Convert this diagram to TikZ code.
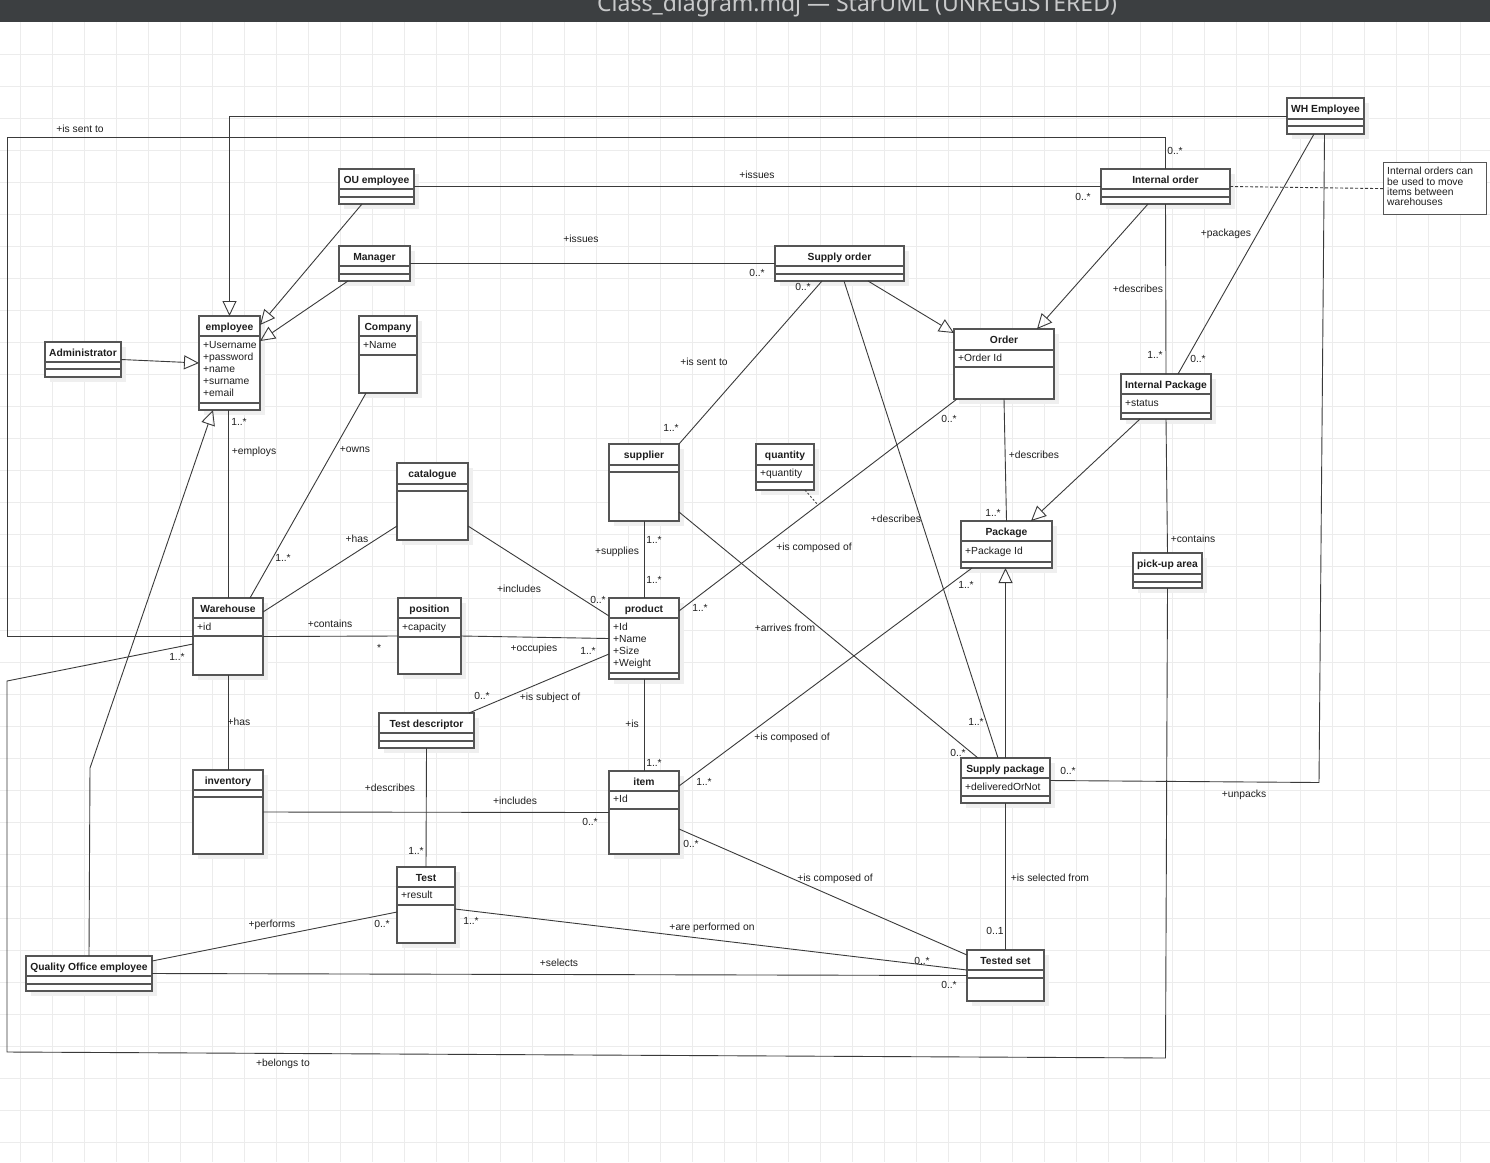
\documentclass[tikz,border=0pt]{standalone}
\usepackage{fontspec}
\setmainfont{Liberation Sans}
\newfontfamily\titlefont{Noto Sans}
\usetikzlibrary{arrows.meta, positioning}

\definecolor{boxgray}{HTML}{555555}
\definecolor{linegray}{HTML}{3A3A3A}
\definecolor{gridgray}{HTML}{ECECEC}
\definecolor{shadowgray}{HTML}{EFEFEF}
\definecolor{barcolor}{HTML}{3C3F41}
\definecolor{bartext}{HTML}{C9CACB}
\definecolor{textblack}{HTML}{1E1E1E}

\newcommand{\umlsize}{\fontsize{10.3pt}{12pt}\selectfont}

% class box: name, left, top, right, bottom, title, compartment lines
\newcommand{\umlclass}[7]{%
  \fill[shadowgray] ({#2+5},{#3+5}) rectangle ({#4+5},{#5+5});
  \node[classbox, minimum width={#4-#2}, minimum height={#5-#3}] (#1) at (#2,#3) {};
  \node[classname] (#1-t) at ({(#2+#4)/2},{#3+10}) {#6};
  \foreach \yy in {#7} \draw[boxgray, line width=1.2pt] (#2,\yy) -- (#4,\yy);
}
% attributes: name, x, first y, list
\newcommand{\classattrs}[4]{%
  \foreach \at [count=\ai] in {#4}
    \node[attr] (#1-a\ai) at (#2,{#3+12*(\ai-1)}) {\at};
}

\begin{document}
\begin{tikzpicture}[x=1pt, y=-1pt]
    \tikzset{
        classbox/.style = {rectangle, draw=boxgray, line width=1.2pt, fill=white, inner sep=0pt, outer sep=0pt, anchor=north west},
        classname/.style = {font=\umlsize\bfseries, text=textblack, inner sep=0pt, text height=11pt, text depth=2pt},
        attr/.style = {font=\umlsize, text=textblack, inner sep=0pt, anchor=west, text height=11pt, text depth=2pt},
        lbl/.style = {font=\umlsize, text=textblack, inner sep=0pt, text height=11pt, text depth=2pt},
        assoc/.style = {draw=linegray, line width=0.9pt},
        gen/.style = {assoc, -{Triangle[open, length=15pt, width=14pt]}},
        notebox/.style = {rectangle, draw=boxgray, line width=1.2pt, fill=white, inner sep=0pt, anchor=north west},
        notelink/.style = {draw=linegray, line width=0.9pt, dash pattern=on 3pt off 2pt},
        gridline/.style = {draw=gridgray, line width=1pt},
    }
    \useasboundingbox (0,0) rectangle (1490,1162);
    \fill[white] (0,0) rectangle (1490,1162);

    % grid
    \foreach \gx in {20.7,52.7,...,1490} \draw[gridline] (\gx,22) -- (\gx,1162);
    \foreach \gy in {54.3,86.3,...,1162} \draw[gridline] (0,\gy) -- (1490,\gy);

    % window title bar
    \fill[barcolor] (0,0) rectangle (1490,22);
    \begin{scope}
        \clip (0,0) rectangle (1490,22);
        \node[anchor=base west, inner sep=0pt, text=bartext, font=\titlefont\fontsize{23pt}{26pt}\selectfont] (wintitle) at (597,11) {Class\_diagram.mdj — StarUML (UNREGISTERED)};
    \end{scope}

    % classes
    \umlclass{whemp}{1287}{98}{1364}{134}{WH Employee}{119,126}
    \umlclass{intorder}{1101}{169}{1230}{204}{Internal order}{189,197}
    \umlclass{ouemp}{339}{169}{414}{204}{OU employee}{189,197}
    \umlclass{manager}{339}{246}{410}{281}{Manager}{266,274}
    \umlclass{supplyorder}{775}{246}{904}{281}{Supply order}{266,274}
    \umlclass{employee}{199}{316}{260}{410}{employee}{336,403}
    \classattrs{employee}{203}{344}{+Username,+password,+name,+surname,+email}
    \umlclass{admin}{45}{342}{121}{377}{Administrator}{362,369}
    \umlclass{company}{359}{316}{417}{393}{Company}{336,355}
    \classattrs{company}{363}{344}{+Name}
    \umlclass{order}{954}{329}{1054}{399}{Order}{350,367}
    \classattrs{order}{958}{357}{+Order Id}
    \umlclass{intpackage}{1121}{374}{1211}{419}{Internal Package}{394,413}
    \classattrs{intpackage}{1125}{402}{+status}
    \umlclass{supplier}{609}{444}{679}{521}{supplier}{465,472}
    \umlclass{quantity}{756}{444}{814}{490}{quantity}{465,482}
    \classattrs{quantity}{760}{472}{+quantity}
    \umlclass{catalogue}{397}{463}{468}{540}{catalogue}{484,491}
    \umlclass{package}{961}{521}{1052}{568}{Package}{541,562}
    \classattrs{package}{965}{550}{+Package Id}
    \umlclass{pickup}{1133}{553}{1202}{588}{pick-up area}{574,582}
    \umlclass{warehouse}{193}{598}{263}{675}{Warehouse}{618,636}
    \classattrs{warehouse}{197}{626}{+id}
    \umlclass{position}{398}{598}{461}{674}{position}{618,637}
    \classattrs{position}{402}{626}{+capacity}
    \umlclass{product}{609}{598}{679}{679}{product}{618,673}
    \classattrs{product}{613}{626}{+Id,+Name,+Size,+Weight}
    \umlclass{testdesc}{379}{713}{474}{748}{Test descriptor}{733,741}
    \umlclass{supplypkg}{961}{758}{1050}{803}{Supply package}{778,796}
    \classattrs{supplypkg}{965}{786}{+deliveredOrNot}
    \umlclass{inventory}{193}{770}{263}{854}{inventory}{790,797}
    \umlclass{item}{609}{771}{679}{854}{item}{791,809}
    \classattrs{item}{613}{798}{+Id}
    \umlclass{test}{397}{867}{455}{943}{Test}{887,905}
    \classattrs{test}{401}{894}{+result}
    \umlclass{testedset}{967}{950}{1044}{1001}{Tested set}{970,978}
    \umlclass{qoemp}{26}{956}{152}{991}{Quality Office employee}{976,984}

    % note
    \node[notebox, minimum width=103pt, minimum height=52pt] (note) at (1383,162) {};
    \node[anchor=north west, align=left, inner sep=0pt, text=textblack, font=\fontsize{10.3pt}{10.4pt}\selectfont] (notetext) at (1387,167) {Internal orders can\\be used to move\\items between\\warehouses};
    \path[notelink] (intorder.east) -- (note.west);

    % bend points of the long connectors
    \coordinate (sentNW) at (7,137);
    \coordinate (belongsSW) at (7,1052);
    \coordinate (belongsW) at (7,681);

    % generalizations
    \path[gen] (whemp.west) -| (employee.north);
    \path[gen] ([xshift=-14.5pt]ouemp.south) -- ([yshift=-9pt]employee.north east);
    \path[gen] ([xshift=-26.5pt]manager.south) -- ([yshift=-25pt]employee.north east);
    \path[gen] (admin.east) -- (employee.west);
    \path[gen] (qoemp.north) -- ++(1,-188) -- ([xshift=14pt]employee.south west);
    \path[gen] ([xshift=28.5pt]supplyorder.south) -- ([yshift=-4pt]order.north west);
    \path[gen] ([xshift=-17.5pt]intorder.south) -- ([xshift=33pt]order.north);
    \path[gen] ([xshift=-26pt]intpackage.south) -- ([xshift=24.5pt]package.north);
    \path[gen] (supplypkg.north) -- (supplypkg.north |- package.south);

    % associations
    \path[assoc] (ouemp.east) -- (intorder.west)
        node[lbl] (issuesA) at (757,174) {+issues}
        node[lbl] (issuesAm) at (1083,196) {0..*};
    \path[assoc] (manager.east) -- (supplyorder.west)
        node[lbl] (issuesB) at (581,238) {+issues}
        node[lbl] (issuesBm) at (757,272) {0..*};
    \path[assoc] (intorder.north) |- (sentNW) |- (warehouse.west)
        node[lbl] (sentA) at (80,128) {+is sent to}
        node[lbl] (sentAm) at (1175,150) {0..*};
    \path[assoc] (intorder.south) -- (intpackage.north)
        node[lbl] (descrA) at (1138,288) {+describes}
        node[lbl] (descrAm) at (1155,354) {1..*};
    \path[assoc] ([xshift=-11.5pt]whemp.south) -- ([xshift=12pt]intpackage.north)
        node[lbl] (packs) at (1226,232) {+packages}
        node[lbl] (packsm) at (1198,358) {0..*};
    \path[assoc] ([xshift=-1pt]whemp.south) -- ([xshift=269pt,yshift=-2pt]supplypkg.east) -- (supplypkg.east)
        node[lbl] (unpacks) at (1244,793) {+unpacks}
        node[lbl] (unpacksm) at (1068,770) {0..*};
    \path[assoc] (order.south) -- (package.north)
        node[lbl] (descrB) at (1034,454) {+describes}
        node[lbl] (descrBm) at (993,512) {1..*};
    \path[assoc] (intpackage.south) -- (pickup.north)
        node[lbl] (contA) at (1193,538) {+contains};
    \path[assoc] (pickup.south) -- ++(-2,470) -- (belongsSW) -- (belongsW) -- ([yshift=-7.5pt]warehouse.west)
        node[lbl] (belongs) at (283,1062) {+belongs to}
        node[lbl] (belongsm) at (177,656) {1..*};
    \path[assoc] (warehouse.north) -- (warehouse.north |- employee.south)
        node[lbl] (employs) at (254,450) {+employs}
        node[lbl] (employsm) at (239,421) {1..*};
    \path[assoc] ([xshift=22pt]warehouse.north) -- ([xshift=-22pt]company.south)
        node[lbl] (owns) at (355,448) {+owns}
        node[lbl] (ownsm) at (283,557) {1..*};
    \path[assoc] ([yshift=-14pt]warehouse.north east) -- ([yshift=-24.5pt]catalogue.west)
        node[lbl] (hasA) at (357,538) {+has};
    \path[assoc] ([yshift=-24.5pt]catalogue.east) -- ([yshift=-18pt]product.north west)
        node[lbl] (inclA) at (519,588) {+includes}
        node[lbl] (inclAm) at (598,599) {0..*};
    \path[assoc] (warehouse.east) -- (position.west)
        node[lbl] (contB) at (330,623) {+contains}
        node[lbl] (contBm) at (379,647) {*};
    \path[assoc] (position.east) -- (product.west)
        node[lbl] (occup) at (534,647) {+occupies}
        node[lbl] (occupm) at (588,650) {1..*};
    \path[assoc] (warehouse.south) -- (inventory.north)
        node[lbl] (hasB) at (239,721) {+has};
    \path[assoc] (inventory.east) -- (item.west)
        node[lbl] (inclB) at (515,800) {+includes}
        node[lbl] (inclBm) at (590,821) {0..*};
    \path[assoc] (testdesc.south) -- (test.north)
        node[lbl] (descrC) at (390,787) {+describes}
        node[lbl] (descrCm) at (416,850) {1..*};
    \path[assoc] ([xshift=-5pt]testdesc.north east) -- ([yshift=-15.5pt]product.west)
        node[lbl] (subj) at (550,696) {+is subject of}
        node[lbl] (subjm) at (482,695) {0..*};
    \path[assoc] (supplier.north east) -- ([xshift=-17.5pt]supplyorder.south)
        node[lbl] (sentB) at (704,361) {+is sent to}
        node[lbl] (sentBm) at (671,427) {1..*}
        node[lbl] (sentBn) at (803,286) {0..*};
    \path[assoc] (supplier.south) -- (product.north)
        node[lbl] (supplies) at (617,550) {+supplies}
        node[lbl] (suppliesm) at (654,539) {1..*}
        node[lbl] (suppliesn) at (654,579) {1..*};
    \path[assoc] ([yshift=-29.5pt]supplier.east) -- ([xshift=-27.5pt]supplypkg.north)
        node[lbl] (arrives) at (785,627) {+arrives from}
        node[lbl] (arrivesm) at (958,752) {0..*};
    \path[assoc] ([xshift=4.5pt]supplyorder.south) -- ([xshift=-7.5pt]supplypkg.north)
        node[lbl] (descrD) at (896,518) {+describes}
        node[lbl] (descrDm) at (976,721) {1..*};
    \path[assoc] ([xshift=3pt]order.south west) -- coordinate[pos=0.5] (qmid) ([yshift=-13pt]product.north east)
        node[lbl] (compA) at (814,546) {+is composed of}
        node[lbl] (compAm) at (949,418) {0..*}
        node[lbl] (compAn) at (700,607) {1..*};
    \path[draw=linegray, line width=0.9pt, dash pattern=on 2pt off 2pt] ([xshift=20pt]quantity.south) -- (qmid);
    \path[assoc] ([xshift=11pt]package.south west) -- ([yshift=-15pt]item.north east)
        node[lbl] (compB) at (792,736) {+is composed of}
        node[lbl] (compBm) at (966,584) {1..*}
        node[lbl] (compBn) at (704,781) {1..*};
    \path[assoc] (product.south) -- (item.north)
        node[lbl] (isA) at (632,723) {+is}
        node[lbl] (isAm) at (654,762) {1..*};
    \path[assoc] ([yshift=-16.5pt]item.east) -- ([yshift=-5pt]testedset.north west)
        node[lbl] (compC) at (835,877) {+is composed of}
        node[lbl] (compCm) at (691,843) {0..*};
    \path[assoc] (supplypkg.south) -- (supplypkg.south |- testedset.north)
        node[lbl] (selfrom) at (1050,877) {+is selected from}
        node[lbl] (selfromm) at (995,930) {0..1};
    \path[assoc] ([yshift=-4pt]test.east) -- ([yshift=5.5pt]testedset.west)
        node[lbl] (perfon) at (712,926) {+are performed on}
        node[lbl] (perfonm) at (471,920) {1..*}
        node[lbl] (perfonn) at (922,960) {0..*};
    \path[assoc] ([yshift=-5pt]qoemp.north east) -- ([yshift=-7pt]test.west)
        node[lbl] (performs) at (272,923) {+performs}
        node[lbl] (performsm) at (382,923) {0..*};
    \path[assoc] (qoemp.east) -- (testedset.west)
        node[lbl] (selects) at (559,962) {+selects}
        node[lbl] (selectsm) at (949,984) {0..*};

\end{tikzpicture}
\end{document}
